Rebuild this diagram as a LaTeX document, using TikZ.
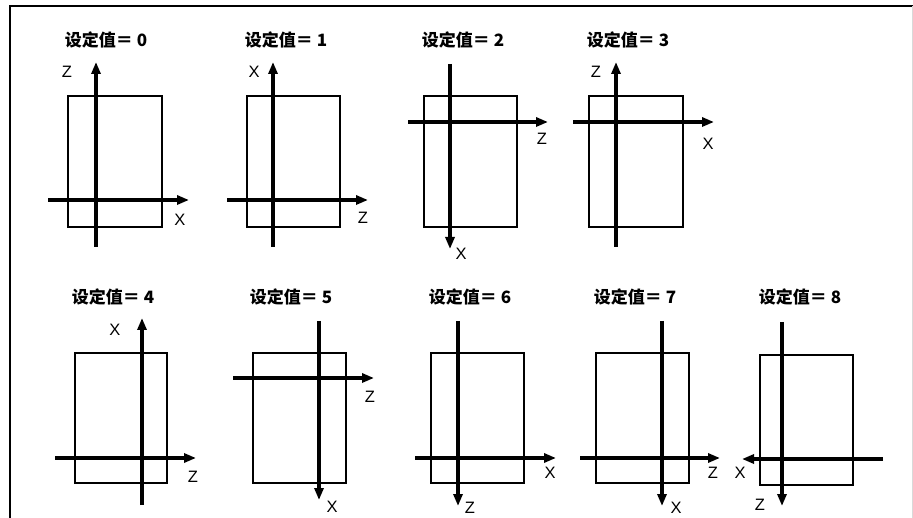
\documentclass[tikz,border=0pt]{standalone}
\usepackage{fontspec}
\setmainfont{Liberation Sans}
\newfontfamily\cjkb{Noto Sans CJK SC}
\usetikzlibrary{arrows.meta}
\begin{document}
\begin{tikzpicture}[x=1pt,y=-1pt,
  axis/.style={line width=3.2pt,-{Triangle[length=12pt,width=9pt]}},
  box/.style={draw,line width=2.2pt},
  ttl/.style={font=\cjkb\bfseries\fontsize{17}{17}\selectfont,inner sep=0pt},
  lab/.style={font=\fontsize{16.5}{16.5}\selectfont,inner sep=0pt}]
\useasboundingbox (0,0) rectangle (913,518);
% frame
\draw[line width=2pt] (9.5,518) -- (9.5,6) -- (913,6);
\draw[black!15,line width=0.8pt] (912,6) -- (912,518);

% ---------- value 0
\node[ttl] (t0) at (106,40) {设定值＝ 0};
\draw[box] (68,96) rectangle (162,227);
\coordinate (v0a) at (96,247); \coordinate (v0b) at (96,62);
\coordinate (h0a) at (48,200); \coordinate (h0b) at (189,200);
\draw[axis] (v0a) -- (v0b);
\draw[axis] (h0a) -- (h0b);
\node[lab] (z0) at (67,72) {Z};
\node[lab] (x0) at (180,220) {X};

% ---------- value 1
\node[ttl] (t1) at (286,40) {设定值＝ 1};
\draw[box] (247,96) rectangle (340,227);
\coordinate (v1a) at (273,247); \coordinate (v1b) at (273,62);
\coordinate (h1a) at (227,200); \coordinate (h1b) at (368,200);
\draw[axis] (v1a) -- (v1b);
\draw[axis] (h1a) -- (h1b);
\node[lab] (x1) at (254,72) {X};
\node[lab] (z1) at (363,218) {Z};

% ---------- value 2
\node[ttl] (t2) at (463,40) {设定值＝ 2};
\draw[box] (424,96) rectangle (517,227);
\coordinate (v2a) at (450,64); \coordinate (v2b) at (450,249);
\coordinate (h2a) at (408,122); \coordinate (h2b) at (548,122);
\draw[axis] (v2a) -- (v2b);
\draw[axis] (h2a) -- (h2b);
\node[lab] (z2) at (542,139) {Z};
\node[lab] (x2) at (461,254) {X};

% ---------- value 3
\node[ttl] (t3) at (628,40) {设定值＝ 3};
\draw[box] (589,96) rectangle (683,227);
\coordinate (v3a) at (616,247); \coordinate (v3b) at (616,62);
\coordinate (h3a) at (573,122); \coordinate (h3b) at (714,122);
\draw[axis] (v3a) -- (v3b);
\draw[axis] (h3a) -- (h3b);
\node[lab] (z3) at (596,72) {Z};
\node[lab] (x3) at (708,144) {X};

% ---------- value 4
\node[ttl] (t4) at (113,297) {设定值＝ 4};
\draw[box] (75,353) rectangle (167,483);
\coordinate (v4a) at (142,505); \coordinate (v4b) at (142,318);
\coordinate (h4a) at (55,458); \coordinate (h4b) at (196,458);
\draw[axis] (v4a) -- (v4b);
\draw[axis] (h4a) -- (h4b);
\node[lab] (x4) at (115,330) {X};
\node[lab] (z4) at (193,477) {Z};

% ---------- value 5
\node[ttl] (t5) at (291,297) {设定值＝ 5};
\draw[box] (253,353) rectangle (346,483);
\coordinate (v5a) at (319,321); \coordinate (v5b) at (319,500);
\coordinate (h5a) at (233,378); \coordinate (h5b) at (374,378);
\draw[axis] (v5a) -- (v5b);
\draw[axis] (h5a) -- (h5b);
\node[lab] (z5) at (370,397) {Z};
\node[lab] (x5) at (332,507) {X};

% ---------- value 6
\node[ttl] (t6) at (470,297) {设定值＝ 6};
\draw[box] (431,353) rectangle (524,483);
\coordinate (v6a) at (458,321); \coordinate (v6b) at (458,506);
\coordinate (h6a) at (415,458); \coordinate (h6b) at (556,458);
\draw[axis] (v6a) -- (v6b);
\draw[axis] (h6a) -- (h6b);
\node[lab] (x6) at (550,473) {X};
\node[lab] (z6) at (470,508) {Z};

% ---------- value 7
\node[ttl] (t7) at (635,297) {设定值＝ 7};
\draw[box] (596,353) rectangle (689,483);
\coordinate (v7a) at (662,321); \coordinate (v7b) at (662,506);
\coordinate (h7a) at (580,458); \coordinate (h7b) at (720,458);
\draw[axis] (v7a) -- (v7b);
\draw[axis] (h7a) -- (h7b);
\node[lab] (z7) at (713,473) {Z};
\node[lab] (x7) at (676,508) {X};

% ---------- value 8
\node[ttl] (t8) at (800,297) {设定值＝ 8};
\draw[box] (760,355) rectangle (853,485);
\coordinate (v8a) at (782,322); \coordinate (v8b) at (782,506);
\coordinate (h8a) at (883,459); \coordinate (h8b) at (742,459);
\draw[axis] (v8a) -- (v8b);
\draw[axis] (h8a) -- (h8b);
\node[lab] (x8) at (740,473) {X};
\node[lab] (z8) at (760,505) {Z};
\end{tikzpicture}
\end{document}
